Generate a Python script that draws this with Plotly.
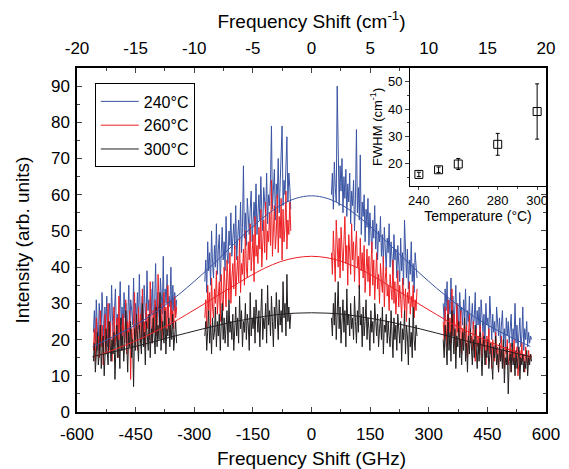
import numpy as np
import plotly.graph_objects as go

# spectral segments (GHz) - the gaps are where the filter blocks the signal
SEG_START = [-558, -273, 51, 337]
SEG_END = [-345, -53, 270, 563]

BLUE_240 = [
    [22, 28, 19, 31, 24, 17, 30, 26, 21, 33, 27, 20, 29, 23, 32, 18, 26, 30, 22, 35,
     25, 19, 28, 34, 23, 27, 20, 31, 36, 24, 29, 21, 33, 26, 30, 19, 27, 35, 22, 31,
     28, 24, 37, 21, 30, 26, 33, 23, 38, 27, 25, 32, 20, 35, 29, 24, 39, 28, 31, 23,
     34, 27, 36, 22, 30, 41, 26, 33, 29, 24, 37, 31, 27, 43, 25, 34, 30, 38, 26, 32,
     29, 40, 24, 35, 28, 33, 27, 31],
    [36, 42, 33, 47, 39, 44, 35, 50, 41, 37, 46, 40, 52, 38, 45, 49, 36, 43, 51, 42,
     47, 39, 54, 44, 41, 50, 46, 55, 43, 48, 52, 45, 57, 42, 49, 53, 47, 58, 44, 51,
     68, 48, 55, 46, 59, 52, 49, 56, 61, 47, 54, 58, 51, 63, 49, 57, 60, 53, 65, 55,
     50, 62, 58, 54, 66, 52, 60, 57, 64, 79, 56, 61, 67, 53, 63, 59, 70, 55, 62, 68,
     79, 57, 64, 60, 71, 76, 58, 66, 62, 56],
    [60, 66, 56, 69, 62, 58, 90, 64, 57, 68, 61, 70, 55, 65, 59, 67, 54, 63, 58, 66,
     52, 61, 57, 64, 50, 59, 78, 55, 62, 53, 71, 49, 58, 54, 60, 47, 56, 51, 59, 46,
     55, 50, 44, 53, 48, 57, 45, 52, 42, 50, 47, 54, 43, 49, 41, 51, 46, 39, 48, 44,
     52, 40, 47, 43, 38, 49, 42, 45, 37, 46, 41, 36, 48, 39, 44, 35, 53, 40, 37, 45,
     34, 42, 38, 47, 36, 41, 33, 44, 39, 37],
    [30, 25, 34, 28, 36, 24, 31, 27, 37, 26, 32, 23, 29, 35, 25, 30, 22, 33, 27, 29,
     24, 31, 26, 34, 22, 28, 25, 32, 21, 27, 30, 23, 26, 33, 21, 28, 24, 29, 20, 31,
     25, 22, 27, 19, 30, 24, 26, 21, 32, 23, 20, 27, 22, 25, 18, 29, 23, 21, 26, 19,
     24, 28, 20, 23, 17, 26, 21, 25, 19, 22, 27, 18, 23, 20, 30, 19, 24, 17, 22, 26,
     18, 21, 29, 17, 23, 20, 25, 18, 22, 19, 21, 20],
]
RED_260 = [
    [17, 23, 14, 26, 19, 21, 15, 28, 18, 24, 13, 22, 27, 16, 20, 30, 17, 25, 19, 14,
     23, 29, 18, 21, 26, 15, 32, 20, 24, 17, 27, 22, 19, 31, 16, 25, 21, 28, 9, 23,
     18, 26, 33, 20, 24, 17, 29, 22, 27, 19, 34, 21, 25, 18, 30, 23, 27, 20, 36, 24,
     19, 28, 22, 31, 25, 21, 38, 26, 23, 30, 20, 27, 33, 24, 29, 22, 35, 26, 21, 31,
     25, 28, 23, 32, 26, 29],
    [26, 31, 23, 35, 28, 33, 24, 37, 29, 26, 34, 30, 39, 27, 32, 36, 25, 38, 31, 28,
     40, 33, 29, 42, 35, 31, 44, 30, 37, 41, 34, 46, 32, 39, 43, 36, 48, 33, 41, 38,
     45, 35, 50, 40, 37, 47, 42, 52, 39, 44, 49, 36, 54, 43, 46, 41, 51, 45, 56, 40,
     48, 53, 44, 58, 42, 50, 47, 55, 46, 64, 43, 52, 57, 45, 49, 60, 44, 54, 48, 59,
     42, 56, 47, 51, 61, 45, 53, 49, 58, 50],
    [44, 38, 50, 42, 36, 53, 45, 40, 48, 37, 51, 43, 39, 47, 54, 41, 46, 35, 49, 44,
     38, 52, 42, 47, 36, 45, 50, 40, 43, 34, 48, 39, 44, 37, 46, 33, 41, 45, 36, 43,
     32, 40, 47, 35, 42, 31, 39, 44, 34, 38, 30, 41, 36, 33, 43, 29, 37, 40, 32, 35,
     28, 38, 34, 31, 42, 30, 36, 27, 33, 39, 29, 35, 31, 26, 37, 32, 28, 34, 25, 33,
     30, 36, 27, 32, 29, 35, 26, 31, 28, 34],
    [25, 20, 29, 23, 18, 31, 22, 26, 19, 34, 21, 27, 24, 17, 30, 22, 25, 19, 28, 16,
     23, 20, 26, 18, 24, 15, 22, 27, 19, 21, 17, 25, 20, 14, 23, 18, 21, 16, 24, 19,
     15, 22, 18, 20, 13, 21, 17, 23, 16, 19, 12, 20, 17, 14, 22, 16, 18, 11, 19, 15,
     21, 14, 17, 12, 18, 16, 20, 13, 15, 19, 11, 17, 14, 20, 12, 16, 18, 10, 15, 17,
     13, 19, 14, 16, 11, 18, 15, 13, 17, 14, 16, 15],
]
BLACK_300 = [
    [14, 19, 11, 17, 22, 13, 16, 24, 12, 18, 21, 10, 15, 23, 17, 13, 25, 19, 14, 20,
     16, 22, 9, 18, 24, 15, 20, 12, 26, 17, 21, 14, 19, 28, 16, 11, 22, 18, 25, 15,
     20, 7, 23, 17, 27, 19, 14, 24, 21, 16, 30, 18, 22, 13, 25, 20, 17, 27, 15, 23,
     19, 26, 21, 16, 29, 18, 24, 20, 33, 17, 22, 25, 19, 28, 16, 23, 21, 26, 18, 24,
     20, 27, 17, 22, 25, 19],
    [21, 25, 17, 23, 28, 19, 24, 16, 26, 20, 22, 29, 18, 25, 21, 27, 17, 24, 30, 20,
     26, 19, 23, 28, 18, 31, 22, 25, 20, 27, 17, 24, 29, 21, 26, 19, 32, 23, 28, 18,
     25, 22, 30, 20, 27, 24, 17, 33, 21, 26, 23, 29, 19, 31, 25, 22, 28, 18, 27, 34,
     20, 26, 23, 30, 19, 35, 24, 28, 21, 32, 25, 18, 29, 23, 33, 27, 20, 31, 24, 28,
     22, 36, 26, 30, 21, 38, 25, 29, 23, 27],
    [26, 21, 30, 24, 33, 20, 27, 36, 23, 29, 19, 25, 31, 22, 28, 18, 34, 24, 27, 21,
     30, 23, 26, 20, 32, 25, 19, 28, 22, 35, 24, 27, 18, 29, 21, 25, 31, 20, 26, 23,
     17, 28, 22, 25, 19, 30, 24, 21, 27, 18, 23, 26, 20, 29, 16, 24, 22, 27, 19, 25,
     21, 18, 28, 23, 15, 26, 20, 24, 17, 27, 22, 19, 25, 14, 23, 20, 28, 16, 24, 21,
     13, 26, 18, 22, 15, 29, 20, 17, 24, 21],
    [20, 15, 24, 18, 13, 27, 17, 22, 14, 28, 19, 16, 23, 12, 21, 18, 25, 15, 20, 13,
     22, 17, 26, 14, 19, 11, 21, 16, 23, 18, 13, 20, 15, 24, 17, 12, 19, 14, 22, 16,
     10, 18, 21, 13, 17, 15, 20, 12, 16, 19, 14, 9, 18, 15, 21, 13, 16, 11, 19, 14,
     17, 12, 20, 8, 15, 13, 18, 5, 14, 16, 11, 19, 13, 15, 10, 17, 12, 14, 18, 9,
     15, 13, 16, 11, 14, 12, 17, 10, 15, 13, 16, 14],
]

# fitted curves
FIT_GHZ = list(range(-560, 561, 40))
FIT_240 = [18.1, 20.1, 22.3, 24.7, 27.5, 30.7, 34.2, 38.0, 42.0, 46.2, 50.3, 54.0, 57.0, 59.0, 59.7,
           59.0, 57.0, 54.0, 50.3, 46.2, 42.0, 38.0, 34.2, 30.7, 27.5, 24.7, 22.3, 20.1, 18.1]
FIT_260 = [15.2, 16.6, 18.3, 20.1, 22.2, 24.4, 26.9, 29.5, 32.2, 34.8, 37.4, 39.7, 41.5, 42.6, 43.0,
           42.6, 41.5, 39.7, 37.4, 34.8, 32.2, 29.5, 26.9, 24.4, 22.2, 20.1, 18.3, 16.6, 15.2]
FIT_300 = [15.3, 16.3, 17.3, 18.4, 19.5, 20.7, 21.8, 22.9, 23.9, 24.9, 25.7, 26.4, 27.0, 27.3, 27.4,
           27.3, 27.0, 26.4, 25.7, 24.9, 23.9, 22.9, 21.8, 20.7, 19.5, 18.4, 17.3, 16.3, 15.3]

GHZ_TICKS = [-600, -450, -300, -150, 0, 150, 300, 450, 600]
GHZ_LABELS = ['-600', '-450', '-300', '-150', '0', '150', '300', '450', '600']
CM_TICKS = [-20, -15, -10, -5, 0, 5, 10, 15, 20]
CM_LABELS = ['-20', '-15', '-10', '-5', '0', '5', '10', '15', '20']
GHZ_PER_CM = 29.98

# inset: FWHM vs temperature
TEMPS = [240, 250, 260, 280, 300]
FWHM = [16.1, 17.8, 19.9, 27.1, 39.1]
FWHM_ERR = [0.8, 1.0, 2.0, 4.0, 10.1]

BLUE = '#3A54A4'
RED = '#ED2024'
BLACK = '#231F20'
FONT = 'Liberation Sans, Arial, sans-serif'


def join_segments(segs):
    xs, ys = [], []
    for a, b, vals in zip(SEG_START, SEG_END, segs):
        xs += list(np.linspace(a, b, len(vals))) + [None]
        ys += list(vals) + [None]
    return xs, ys


fig = go.Figure()

for name, segs, col in [('240°C', BLUE_240, BLUE), ('260°C', RED_260, RED), ('300°C', BLACK_300, BLACK)]:
    xs, ys = join_segments(segs)
    fig.add_trace(go.Scatter(x=xs, y=ys, mode='lines', name=name,
                             line=dict(color=col, width=1), connectgaps=False))

for fit, col in [(FIT_240, BLUE), (FIT_260, RED), (FIT_300, BLACK)]:
    fig.add_trace(go.Scatter(x=FIT_GHZ, y=fit, mode='lines', showlegend=False,
                             line=dict(color=col, width=1, shape='spline')))

# same fit on the cm-1 scale, invisible, so the top axis gets drawn
fig.add_trace(go.Scatter(x=[v / GHZ_PER_CM for v in FIT_GHZ], y=FIT_300, xaxis='x2', mode='lines',
                         line=dict(width=0), opacity=0, showlegend=False, hoverinfo='skip'))

fig.add_trace(go.Scatter(x=TEMPS, y=FWHM, mode='markers', showlegend=False,
                         xaxis='x3', yaxis='y3',
                         marker=dict(symbol='square-open', size=8, color='black', line=dict(width=1)),
                         error_y=dict(type='data', array=FWHM_ERR, color='black', thickness=1, width=2)))

# page body keeps an 8px margin, so the figure is 8px smaller than the window
fig.update_layout(
    width=561, height=461,
    margin=dict(l=69, r=23, t=60, b=57),
    paper_bgcolor='white', plot_bgcolor='white',
    font=dict(family=FONT, size=17, color='black'),
    showlegend=True,
    legend=dict(x=0.038, y=0.955, xanchor='left', yanchor='top', itemwidth=38,
                entrywidth=72, bordercolor='black', borderwidth=1, bgcolor='white',
                font=dict(size=16)),
    xaxis=dict(range=[-600, 600], tickvals=GHZ_TICKS, ticktext=GHZ_LABELS,
               ticks='inside', ticklen=5, tickwidth=1, ticklabelstandoff=6,
               minor=dict(dtick=75, ticks='inside', ticklen=3),
               showline=True, linecolor='black', linewidth=1.5, showgrid=False, zeroline=False,
               automargin=False,
               title=dict(text='Frequency Shift (GHz)', font=dict(size=19), standoff=12)),
    xaxis2=dict(range=[-20, 20], tickvals=CM_TICKS, ticktext=CM_LABELS,
                overlaying='x', side='top', anchor='y',
                ticks='inside', ticklen=5, tickwidth=1, ticklabelstandoff=5,
                minor=dict(dtick=2.5, ticks='inside', ticklen=3),
                showline=True, linecolor='black', linewidth=1.5, showgrid=False, zeroline=False,
                automargin=False,
                title=dict(text='Frequency Shift (cm<sup>-1</sup>)', font=dict(size=19), standoff=8)),
    yaxis=dict(range=[0, 95], dtick=10, ticks='inside', ticklen=5, tickwidth=1, ticklabelstandoff=2,
               minor=dict(dtick=5, ticks='inside', ticklen=3),
               showline=True, linecolor='black', linewidth=1.5, mirror='ticks',
               showgrid=False, zeroline=False, automargin=False,
               title=dict(text='Intensity (arb. units)', font=dict(size=19), standoff=16)),
    xaxis3=dict(domain=[0.71, 1.0], anchor='y3', range=[235.5, 304.5],
                tickvals=[240, 260, 280, 300], ticks='outside', ticklen=3,
                minor=dict(tickvals=[250, 270, 290], ticks='outside', ticklen=2),
                showline=True, linecolor='black', linewidth=1, mirror=True,
                showgrid=False, zeroline=False, tickfont=dict(size=13), automargin=False,
                title=dict(text='Temperature (°C)', font=dict(size=14), standoff=1)),
    yaxis3=dict(domain=[0.658, 1.0], anchor='x3', range=[12, 55],
                tickvals=[20, 30, 40, 50], ticks='outside', ticklen=4,
                minor=dict(tickvals=[15, 25, 35, 45], ticks='outside', ticklen=2),
                showline=True, linecolor='black', linewidth=1, mirror=True,
                showgrid=False, zeroline=False, tickfont=dict(size=13), automargin=False,
                title=dict(text='FWHM (cm<sup>-1</sup>)', font=dict(size=13), standoff=2)),
)

fig.write_html("out.html")
